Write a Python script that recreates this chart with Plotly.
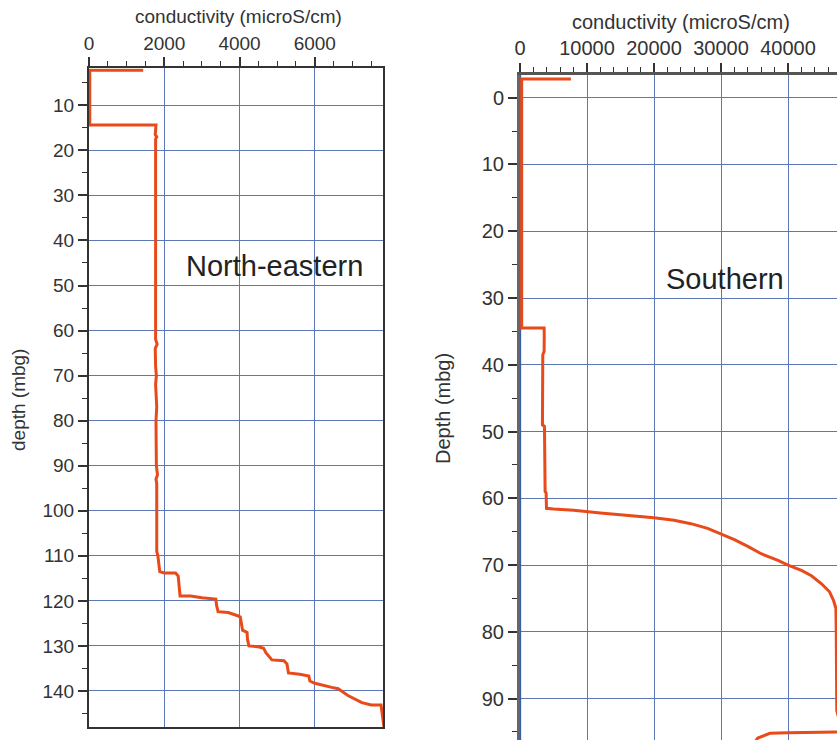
import plotly.graph_objects as go

# North-eastern profile: depth (mbg) and conductivity (microS/cm)
ne_depth = [2.2, 2.2, 14.4, 14.4, 16.5, 17.0, 17.5, 20, 30, 40, 50, 60, 62, 63, 64, 68, 70, 72,
            76, 77, 80, 90, 92, 93, 94, 100, 105, 109, 110, 112, 113.5, 113.8, 113.8, 114.5,
            118.9, 118.9, 119.3, 119.6, 121, 122.4, 122.6, 123.3, 123.6, 125, 126.5, 127, 128.5,
            130, 130.2, 130.5, 131.5, 133.1, 133.3, 134, 136, 136.3, 136.7, 137.8, 138.3, 139.2,
            139.5, 141, 142.6, 143.1, 143.1, 145, 147, 148.2]
ne_cond = [1440, 20, 20, 1780, 1760, 1800, 1770, 1770, 1765, 1760, 1760, 1765, 1770, 1810, 1760,
           1770, 1790, 1770, 1780, 1800, 1780, 1790, 1820, 1780, 1800, 1800, 1810, 1800, 1830,
           1850, 1880, 2000, 2300, 2370, 2420, 2700, 3000, 3370, 3390, 3430, 3700, 3950, 4020,
           4050, 4080, 4200, 4210, 4250, 4500, 4640, 4700, 4860, 5180, 5260, 5300, 5600, 5840,
           5870, 6000, 6450, 6620, 6880, 7250, 7500, 7760, 7790, 7810, 7840]

# Southern profile
s_depth = [-2.8, -2.8, 34.5, 34.5, 35.5, 38.0, 38.5, 44, 49, 49.2, 55, 59, 59.2, 61.5, 61.6, 61.8,
           62.2, 62.5, 62.9, 63.3, 63.8, 64.5, 65.3, 66.2, 67.2, 68.3, 69.3, 70, 70.8, 71.6, 72.8,
           74, 75.3, 76.5, 80, 85, 91.8, 93, 95.0, 95.1, 95.2, 95.9, 96.3]
s_cond = [7600, 250, 250, 3600, 3620, 3600, 3400, 3380, 3350, 3650, 3700, 3750, 3900, 3950, 5000,
          8000, 12000, 16000, 20000, 23000, 25500, 28000, 30000, 32000, 34000, 36000, 38500,
          40000, 42000, 43500, 45000, 46200, 46800, 47150, 47200, 47250, 47280, 47600, 47600,
          40000, 37300, 35500, 35200]

s_ref_depth = [-3.4, 96.3]
s_ref_cond = [60, 60]

orange = "#e84a1a"
grid = "#5b77b6"
txt = "#333333"
font = "Liberation Sans, Arial, sans-serif"

fig = go.Figure()
fig.add_trace(go.Scatter(x=ne_cond, y=ne_depth, mode="lines", line=dict(color=orange, width=3),
                         xaxis="x", yaxis="y", showlegend=False))
fig.add_trace(go.Scatter(x=s_ref_cond, y=s_ref_depth, mode="lines", line=dict(color="#3a5fa8", width=1.5),
                         xaxis="x2", yaxis="y2", showlegend=False))
fig.add_trace(go.Scatter(x=s_cond, y=s_depth, mode="lines", line=dict(color=orange, width=3),
                         xaxis="x2", yaxis="y2", showlegend=False))

W, H = 837, 740

def px_x(p):
    return p / W

def px_y(p):
    return (H - p) / H

def axis(size, **kw):
    d = dict(showgrid=True, gridcolor=grid, gridwidth=1, zeroline=False, ticks="outside",
             tickcolor=txt, tickwidth=1.5, ticklen=9, automargin=False, tickformat="d",
             tickfont=dict(family=font, color=txt, size=size))
    d.update(kw)
    return d

def minor(step):
    return dict(dtick=step, ticks="outside", ticklen=5, tickcolor=txt, tickwidth=1.2, showgrid=False)

def label(text, x, y, size, angle=0, color=txt):
    return dict(text=text, x=px_x(x), y=px_y(y), xref="paper", yref="paper", xanchor="center",
                yanchor="middle", textangle=angle, showarrow=False,
                font=dict(family=font, size=size, color=color))

fig.update_layout(
    width=W, height=H, margin=dict(l=0, r=0, t=0, b=0, autoexpand=False),
    paper_bgcolor="white", plot_bgcolor="white",
    xaxis=axis(19, domain=[px_x(89), px_x(383.3)], range=[0, 7820], side="top", anchor="y",
               dtick=2000, tick0=0, showline=True, linecolor="#333", linewidth=2, mirror=True,
               minor=minor(500)),
    yaxis=axis(19, domain=[px_y(727.3), px_y(68.3)], range=[148.06, 1.79], anchor="x",
               dtick=10, tick0=0, showline=True, linecolor="#333", linewidth=2, mirror=True,
               minor=minor(5)),
    xaxis2=axis(20, domain=[px_x(520), 1.0], range=[0, 47313], side="top", anchor="y2",
                dtick=10000, tick0=0, showline=True, linecolor="#555", linewidth=3,
                minor=minor(2000)),
    yaxis2=axis(20, domain=[0, px_y(75)], range=[96.2, -3.4], anchor="x2",
                dtick=10, tick0=0, showline=True, linecolor="#666", linewidth=3,
                minor=minor(5)),
    annotations=[
        label("conductivity (microS/cm)", 238, 17, 19),
        label("conductivity (microS/cm)", 681, 22, 20),
        label("depth (mbg)", 18, 400, 19, angle=-90),
        label("Depth (mbg)", 443, 408, 20, angle=-90),
        label("North-eastern", 274, 266, 29, color="#222"),
        label("Southern", 725, 279, 29, color="#222"),
    ],
)

fig.write_html("out.html", config={"displayModeBar": False},
               post_script="document.body.style.margin='0px';")
